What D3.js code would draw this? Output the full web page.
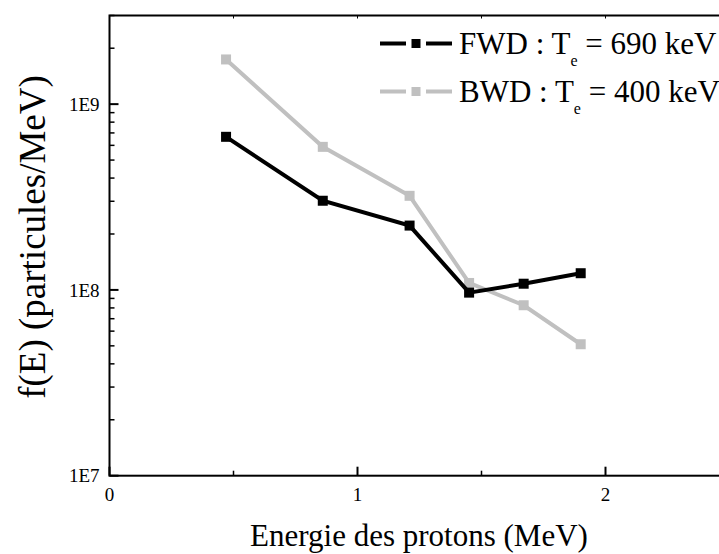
<!DOCTYPE html>
<html><head><meta charset="utf-8">
<script src="https://cdn.jsdelivr.net/npm/d3@7"></script>
<style>body{margin:0;background:#fff}svg{display:block}</style>
</head><body>
<script>
const energies = [0.47, 0.86, 1.21, 1.45, 1.67, 1.90];
const fwdValues = [6.67e8, 3.02e8, 2.22e8, 9.67e7, 1.08e8, 1.23e8];
const bwdValues = [1.74e9, 5.89e8, 3.21e8, 1.09e8, 8.27e7, 5.1e7];
const seriesNames = ["FWD : T", "BWD : T"];
const seriesSuffix = [" = 690 keV", " = 400 keV"];
const xTickValues = [0, 1, 2];
const yTickValues = [1e7, 1e8, 1e9];
const yTickLabels = ["1E7", "1E8", "1E9"];

(function () {
const W = 719, H = 554;
const mLeft = 109.5, mTop = 15.5, mBottom = 475.7;
const x = d3.scaleLinear().domain([0, 2.5]).range([mLeft, mLeft + 2.5 * 248]);
const y = d3.scaleLog().domain([1e7, 3e9]).range([mBottom, mTop]);
const FF = '"Liberation Serif"';

const svg = d3.select("body").append("svg").attr("width", W).attr("height", H);

// frame
svg.append("rect").attr("x", mLeft).attr("y", mTop).attr("width", x(2.5) - mLeft).attr("height", mBottom - mTop)
  .attr("fill", "none").attr("stroke", "#000").attr("stroke-width", 2);

// minor y ticks
const minorY = [];
for (let d = 1e7; d < 3e9; d *= 10) for (let k = 2; k <= 9; k++) if (d * k <= 3e9) minorY.push(d * k);
svg.append("g").selectAll("line").data(minorY).join("line")
  .attr("x1", mLeft).attr("x2", mLeft + 5).attr("y1", d => y(d)).attr("y2", d => y(d))
  .attr("stroke", "#000").attr("stroke-width", 1.5);
svg.append("g").selectAll("line").data(yTickValues).join("line")
  .attr("x1", mLeft).attr("x2", mLeft + 9).attr("y1", d => y(d)).attr("y2", d => y(d))
  .attr("stroke", "#000").attr("stroke-width", 2);
svg.append("g").selectAll("text").data(yTickValues).join("text")
  .attr("x", mLeft - 10).attr("y", d => y(d)).attr("dy", "0.35em").attr("text-anchor", "end")
  .style("font-family", FF).style("font-size", "19px").text((d, i) => yTickLabels[i]);

// x ticks
const minorX = [0.5, 1.5, 2.5];
svg.append("g").selectAll("line").data(xTickValues).join("line")
  .attr("x1", d => x(d)).attr("x2", d => x(d)).attr("y1", mBottom).attr("y2", mBottom - 9)
  .attr("stroke", "#000").attr("stroke-width", 2);
svg.append("g").selectAll("line").data(minorX).join("line")
  .attr("x1", d => x(d)).attr("x2", d => x(d)).attr("y1", mBottom).attr("y2", mBottom - 5)
  .attr("stroke", "#000").attr("stroke-width", 1.5);
svg.append("g").selectAll("line").data(xTickValues.concat(minorX)).join("line")
  .attr("x1", d => x(d)).attr("x2", d => x(d)).attr("y1", mTop).attr("y2", mTop + 3)
  .attr("stroke", "#000").attr("stroke-width", 1);
svg.append("g").selectAll("text").data(xTickValues).join("text")
  .attr("x", d => x(d)).attr("y", 501).attr("text-anchor", "middle")
  .style("font-family", FF).style("font-size", "19px").text(d => d);

// titles
svg.append("text").attr("x", 419).attr("y", 546).attr("text-anchor", "middle")
  .style("font-family", FF).style("font-size", "31px").text("Energie des protons (MeV)");
svg.append("text").attr("transform", "translate(45,237) rotate(-90)").attr("text-anchor", "middle")
  .style("font-family", FF).style("font-size", "37px").text("f(E) (particules/MeV)");

// series
const series = [
  {vals: fwdValues, color: "#000000"},
  {vals: bwdValues, color: "#c0c0c0"}
];
const line = d3.line().x(d => x(d[0])).y(d => y(d[1]));
[1, 0].forEach(i => {
  const s = series[i];
  const pts = energies.map((e, j) => [e, s.vals[j]]);
  svg.append("path").datum(pts).attr("d", line).attr("fill", "none")
    .attr("stroke", s.color).attr("stroke-width", 4).attr("stroke-linejoin", "miter");
  svg.append("g").selectAll("rect").data(pts).join("rect")
    .attr("x", d => x(d[0]) - 5).attr("y", d => y(d[1]) - 5).attr("width", 10).attr("height", 10)
    .attr("fill", s.color);
});

// legend
const legY = [43.5, 91.5];
series.forEach((s, i) => {
  const g = svg.append("g");
  g.append("line").attr("x1", 380).attr("x2", 452).attr("y1", legY[i]).attr("y2", legY[i])
    .attr("stroke", s.color).attr("stroke-width", 4).attr("stroke-dasharray", "26,20,26");
  g.append("rect").attr("x", 416 - 4.5).attr("y", legY[i] - 4.5).attr("width", 9).attr("height", 9).attr("fill", s.color);
  const t = g.append("text").attr("x", 459).attr("y", legY[i] + 10)
    .style("font-family", FF).style("font-size", "31px");
  t.append("tspan").text(seriesNames[i]);
  t.append("tspan").style("font-size", "16px").attr("dy", 12).text("e");
  t.append("tspan").attr("dy", -12).text(seriesSuffix[i]);
});
})();
</script>
</body></html>
